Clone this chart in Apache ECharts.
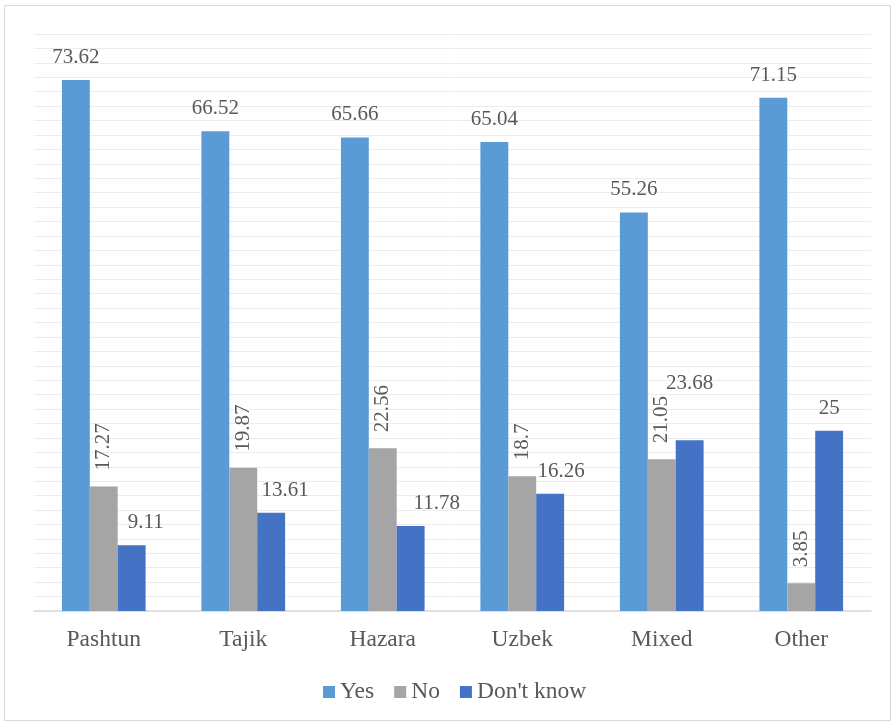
<!DOCTYPE html>
<html>
<head>
<meta charset="utf-8">
<title>Responses by ethnic group</title>
<script src="https://cdn.jsdelivr.net/npm/echarts@6/dist/echarts.min.js"></script>
<style>
  html, body { margin: 0; padding: 0; background: #ffffff; }
  #chart { width: 893px; height: 724px; }
</style>
</head>
<body>
<div id="chart"></div>
<script>
// Categories and series values
const categories = ['Pashtun', 'Tajik', 'Hazara', 'Uzbek', 'Mixed', 'Other'];
const yesValues = [73.62, 66.52, 65.66, 65.04, 55.26, 71.15];
const noValues = [17.27, 19.87, 22.56, 18.7, 21.05, 3.85];
const dontKnowValues = [9.11, 13.61, 11.78, 16.26, 23.68, 25];
const seriesNames = ['Yes', 'No', "Don't know"];

// Nudges for "Don't know" value labels so they clear the rotated "No" labels
const dontKnowLabelShift = [[14, 0], [14, 0], [26, 0], [11, 0], [0, -34], [0, 0]];

const textColor = '#595959';
const fontFamily = '"Liberation Serif", "Times New Roman", serif';

const chart = echarts.init(document.getElementById('chart'), null, { renderer: 'canvas' });

const labelBase = {
  show: true,
  color: textColor,
  fontFamily: fontFamily,
  fontSize: 21
};

const dontKnowData = dontKnowValues.map((v, i) => ({
  value: v,
  label: { offset: dontKnowLabelShift[i] }
}));

chart.setOption({
  animation: false,
  backgroundColor: '#ffffff',
  textStyle: { fontFamily: fontFamily },
  graphic: [{
    type: 'rect',
    shape: { x: 4.5, y: 5.5, width: 886, height: 715 },
    style: { fill: 'none', stroke: '#d9d9d9', lineWidth: 1 },
    silent: true
  }],
  grid: { left: 34, right: 22, top: 34, bottom: 113, containLabel: false },
  legend: {
    data: seriesNames,
    top: 675,
    left: 318,
    itemWidth: 12,
    itemHeight: 12,
    itemGap: 20,
    icon: 'rect',
    textStyle: { color: textColor, fontFamily: fontFamily, fontSize: 23.5, padding: [0, 0, 0, 0] }
  },
  xAxis: {
    type: 'category',
    data: categories,
    axisLine: { lineStyle: { color: '#d9d9d9', width: 1.5 } },
    axisTick: { show: false },
    axisLabel: { color: textColor, fontFamily: fontFamily, fontSize: 23.5, margin: 17 }
  },
  yAxis: {
    type: 'value',
    min: 0,
    max: 80,
    interval: 2,
    axisLine: { show: false },
    axisTick: { show: false },
    axisLabel: { show: false },
    splitLine: { lineStyle: { color: '#ececec', width: 1 } }
  },
  series: [
    {
      name: seriesNames[0],
      type: 'bar',
      data: yesValues,
      barGap: '0%',
      barCategoryGap: '40%',
      itemStyle: { color: '#5b9bd5' },
      label: Object.assign({}, labelBase, { position: 'top', distance: 12 })
    },
    {
      name: seriesNames[1],
      type: 'bar',
      data: noValues,
      itemStyle: { color: '#a5a5a5' },
      label: Object.assign({}, labelBase, {
        position: 'top',
        rotate: 90,
        align: 'left',
        verticalAlign: 'middle',
        distance: 16
      })
    },
    {
      name: seriesNames[2],
      type: 'bar',
      data: dontKnowData,
      itemStyle: { color: '#4472c4' },
      label: Object.assign({}, labelBase, { position: 'top', distance: 12 })
    }
  ]
});
</script>
</body>
</html>
